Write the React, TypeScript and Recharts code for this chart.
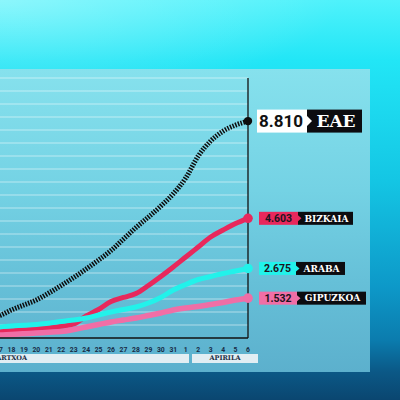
import { LineChart, Line, XAxis, YAxis, ReferenceLine, LabelList } from 'recharts';

// egunak: martxoa 16-31, apirila 1-6
const days = ['16', '17', '18', '19', '20', '21', '22', '23', '24', '25', '26', '27', '28', '29', '30', '31', '1', '2', '3', '4', '5', '6'];

const eae = [731, 893, 1137, 1340, 1543, 1827, 2132, 2456, 2801, 3167, 3553, 4019, 4486, 4913, 5359, 5860, 6500, 7389, 7998, 8404, 8648, 8810];
const bizkaia = [212, 250, 281, 312, 358, 404, 450, 538, 846, 1096, 1404, 1558, 1711, 2019, 2365, 2731, 3115, 3500, 3885, 4154, 4404, 4603];
const araba = [385, 423, 462, 488, 519, 565, 635, 692, 769, 885, 1000, 1096, 1192, 1346, 1558, 1846, 2058, 2250, 2365, 2481, 2577, 2675];
const gipuzkoa = [77, 115, 135, 162, 192, 219, 250, 327, 423, 519, 615, 692, 769, 865, 962, 1077, 1154, 1212, 1289, 1365, 1462, 1532];

const gridTicks = [500, 1000, 1500, 2000, 2500, 3000, 3500, 4000, 4500, 5000, 5500, 6000, 6500, 7000, 7500, 8000, 8500, 9000, 9500, 10000];

const names = ['EAE', 'BIZKAIA', 'ARABA', 'GIPUZKOA'];
const totals = ['8.810', '4.603', '2.675', '1.532'];

const data = days.map((day, i) => ({
  day,
  eae: eae[i],
  bizkaia: bizkaia[i],
  araba: araba[i],
  gipuzkoa: gipuzkoa[i],
}));

const last = days.length - 1;

const NUM_FONT = 'Roboto, "Liberation Sans", sans-serif';
const NAME_FONT = '"DejaVu Serif", serif';

function endDot(color: string, r: number) {
  return (props: any) => {
    const { cx, cy, index } = props;
    if (index !== last) return <g key={`d${index}`} />;
    return <circle key={`d${index}`} cx={cx} cy={cy} r={r} fill={color} />;
  };
}

function smallTag(color: string, name: string, total: string, boxW: number, tagW: number) {
  return (props: any) => {
    const { x, y, index } = props;
    if (index !== last) return null;
    const x0 = x + 11;
    const x1 = x0 + boxW;
    return (
      <g>
        <rect x={x1} y={y - 6.5} width={tagW} height={13} fill="#0c0c10" />
        <rect x={x0} y={y - 6.5} width={boxW} height={13} fill={color} />
        <polygon points={`${x1},${y - 3} ${x1 + 3.5},${y} ${x1},${y + 3}`} fill={color} />
        <text x={x0 + boxW / 2} y={y + 3.8} textAnchor="middle" fontSize={10.5} fontWeight={700} fontFamily={NUM_FONT} fill="#1c1420">
          {total}
        </text>
        <text x={x1 + tagW / 2 + 1} y={y + 3.3} textAnchor="middle" fontSize={9} fontWeight={700} fontFamily={NAME_FONT} fill="#ffffff">
          {name}
        </text>
      </g>
    );
  };
}

function bigTag(props: any) {
  const { x, y, index } = props;
  if (index !== last) return null;
  const x0 = x + 9;
  const x1 = x0 + 50;
  return (
    <g>
      <rect x={x1} y={y - 11.5} width={55} height={23} fill="#0c0c10" />
      <rect x={x0} y={y - 11.5} width={50} height={23} fill="#ffffff" />
      <polygon points={`${x1},${y - 5} ${x1 + 5},${y} ${x1},${y + 5}`} fill="#ffffff" />
      <text x={x0 + 24} y={y + 6} textAnchor="middle" fontSize={17} fontWeight={700} fontFamily={NUM_FONT} fill="#111111">
        {totals[0]}
      </text>
      <text x={x1 + 29} y={y + 6.2} textAnchor="middle" fontSize={17} fontWeight={700} fontFamily={NAME_FONT} fill="#ffffff">
        {names[0]}
      </text>
    </g>
  );
}

export default function App() {
  return (
    <div
      style={{
        position: 'absolute',
        left: 0,
        top: 0,
        width: 400,
        height: 400,
        overflow: 'hidden',
        background:
          'linear-gradient(180deg, #4ff2fb 0%, #22e6f6 15%, #14c6e4 45%, #0d98c8 72%, #0b7cae 85%, #0b5886 93%, #0a4670 100%)',
      }}
    >
      <div
        style={{
          position: 'absolute',
          left: 0,
          top: 0,
          width: 400,
          height: 120,
          background: 'radial-gradient(ellipse at 0% 0%, rgba(255,255,255,0.35), rgba(255,255,255,0) 60%)',
        }}
      />
      <div
        style={{
          position: 'absolute',
          left: 0,
          top: 69,
          width: 370,
          height: 303,
          background: 'linear-gradient(180deg, #86e1ed 0%, #74d2e4 40%, #66c0d8 70%, #5cb0cd 100%)',
        }}
      />
      <div style={{ position: 'absolute', left: -20, top: 0 }}>
        <LineChart width={420} height={400} data={data} margin={{ top: 78, right: 152, bottom: 42, left: 6.55 }}>
          <XAxis
            dataKey="day"
            interval={0}
            height={20}
            tickLine={false}
            tickSize={0}
            tickMargin={9}
            axisLine={{ stroke: '#111', strokeWidth: 1.5 }}
            tick={{ fontSize: 6.8, fontWeight: 700, fill: '#172b45', fontFamily: NUM_FONT }}
          />
          <YAxis yAxisId="reg" hide domain={[0, 10000]} />
          <YAxis yAxisId="eae" hide domain={[0, 10560]} />
          {gridTicks.map((t) => (
            <ReferenceLine key={t} y={t} yAxisId="reg" stroke="rgba(255,255,255,0.5)" strokeWidth={1.2} />
          ))}
          <ReferenceLine x="6" yAxisId="reg" stroke="#111" strokeWidth={1.3} />
          <Line
            yAxisId="reg"
            type="monotone"
            dataKey="bizkaia"
            stroke="#e8285c"
            strokeWidth={5}
            strokeLinecap="round"
            dot={endDot('#e8285c', 4.8)}
            activeDot={false}
            isAnimationActive={false}
          >
            <LabelList dataKey="bizkaia" content={smallTag('#e8285c', names[1], totals[1], 39, 55)} />
          </Line>
          <Line
            yAxisId="reg"
            type="monotone"
            dataKey="araba"
            stroke="#22f2ea"
            strokeWidth={5}
            strokeLinecap="round"
            dot={endDot('#22f2ea', 4.8)}
            activeDot={false}
            isAnimationActive={false}
          >
            <LabelList dataKey="araba" content={smallTag('#22f2ea', names[2], totals[2], 37, 49)} />
          </Line>
          <Line
            yAxisId="reg"
            type="monotone"
            dataKey="gipuzkoa"
            stroke="#f06ea6"
            strokeWidth={5.5}
            strokeLinecap="round"
            dot={endDot('#f06ea6', 4.8)}
            activeDot={false}
            isAnimationActive={false}
          >
            <LabelList dataKey="gipuzkoa" content={smallTag('#f06ea6', names[3], totals[3], 38, 69)} />
          </Line>
          <Line
            yAxisId="eae"
            type="monotone"
            dataKey="eae"
            stroke="#0d0d0d"
            strokeWidth={5}
            strokeDasharray="1.5 1.3"
            dot={endDot('#0d0d0d', 4.2)}
            activeDot={false}
            isAnimationActive={false}
          >
            <LabelList dataKey="eae" content={bigTag} />
          </Line>
        </LineChart>
      </div>
      <div
        style={{
          position: 'absolute',
          left: 0,
          top: 354,
          width: 189,
          height: 8.5,
          background: '#e2eef3',
        }}
      />
      <div
        style={{
          position: 'absolute',
          left: -11,
          top: 354,
          height: 8.5,
          lineHeight: '8.5px',
          fontSize: 6.5,
          fontWeight: 700,
          fontFamily: NAME_FONT,
          color: '#1d2f45',
        }}
      >
        MARTXOA
      </div>
      <div
        style={{
          position: 'absolute',
          left: 192,
          top: 354,
          width: 66,
          height: 8.5,
          lineHeight: '8.5px',
          background: '#e2eef3',
          textAlign: 'center',
          fontSize: 6.5,
          fontWeight: 700,
          fontFamily: NAME_FONT,
          color: '#1d2f45',
        }}
      >
        APIRILA
      </div>
    </div>
  );
}
